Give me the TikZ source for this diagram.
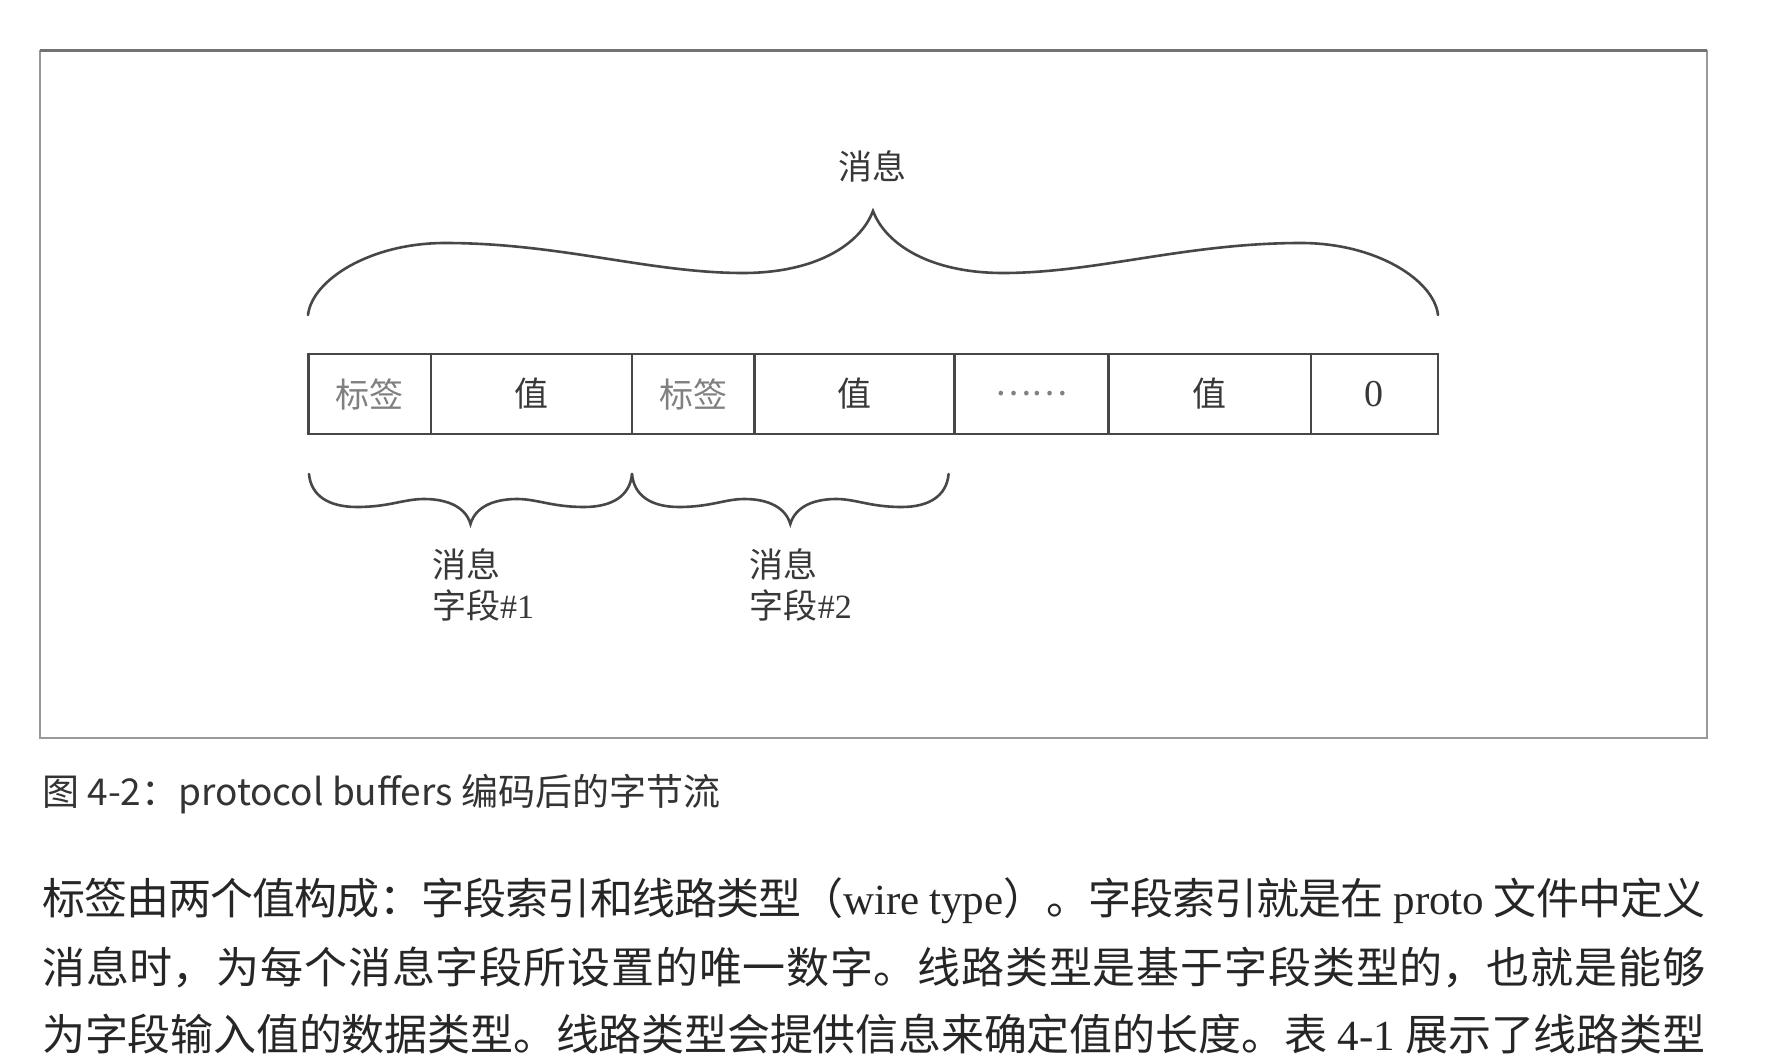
\documentclass[tikz,border=0pt]{standalone}
\usepackage{fontspec}
\setmainfont{Liberation Serif}
\newfontfamily\cjk{Noto Sans CJK SC}
\XeTeXlinebreaklocale "zh"
\XeTeXlinebreakskip=0pt plus 6pt minus 3pt
\newcommand{\fullline}[1]{\vbox{\hsize=1663pt\parindent=0pt\leftskip=0pt\rightskip=0pt
  \parfillskip=0pt\tolerance=9999\hbadness=10000\noindent #1\par}}
\tikzset{
  line/.style={line width=2.6pt, draw=black!72, line cap=round},
  cell/.style={draw=black!72, line width=2.4pt, minimum height=80pt, inner sep=0pt,
    text=black!78, font=\fontsize{34}{40}\selectfont\cjk},
  tagcell/.style={cell, text=black!50},
  lbl/.style={inner sep=0pt, text=black!78, font=\fontsize{34}{41}\selectfont},
  body/.style={anchor=west, inner sep=0pt, font=\fontsize{43}{50}\selectfont, text=black!85},
}
\begin{document}
\begin{tikzpicture}[x=1pt,y=-1pt]
\useasboundingbox[fill=white] (0,0) rectangle (1792,1062);
% frame
\draw[draw=black!40, line width=1.5pt] (40,51) rectangle (1707,738);
\draw[draw=black!55, line width=3pt] (40,51) -- (1707,51);
% top label and brace
\node[lbl, font=\fontsize{34}{41}\selectfont\cjk] (msg) at (872,166) {消息};
\draw[line] (308,315) .. controls (312,280) and (370,243) .. (445,243)
  .. controls (560,243) and (650,273) .. (743,273)
  .. controls (815,273) and (860,245) .. (873,211)
  .. controls (886,245) and (931,273) .. (1003,273)
  .. controls (1096,273) and (1186,243) .. (1301,243)
  .. controls (1376,243) and (1434,280) .. (1438,315);
% cells
\node[tagcell, minimum width=122.3pt] (c1) at (369.75,394) {标签};
\node[cell, minimum width=201.1pt] (c2) at (531.45,394) {值};
\node[tagcell, minimum width=122.3pt] (c3) at (693.15,394) {标签};
\node[cell, minimum width=200pt] (c4) at (854.3,394) {值};
\node[tagcell, minimum width=154.3pt] (c5) at (1031.45,394) {……};
\node[cell, minimum width=202.3pt] (c6) at (1209.75,394) {值};
\node[cell, minimum width=126.9pt, font=\fontsize{38}{40}\selectfont] (c7) at (1374.35,394) {0};
% lower braces
\draw[line] (309,474) .. controls (311,496) and (329,507) .. (357,507)
  .. controls (389,507) and (404,499) .. (424,499)
  .. controls (449,499) and (466,508) .. (470.5,524)
  .. controls (475,508) and (492,499) .. (517,499)
  .. controls (537,499) and (552,507) .. (584,507)
  .. controls (612,507) and (630,496) .. (632,474);
\draw[line] (632,474) .. controls (634,496) and (651.6,507) .. (679,507)
  .. controls (710.4,507) and (725,499) .. (744.4,499)
  .. controls (769,499) and (785.7,508) .. (790.3,524)
  .. controls (795,508) and (811.6,499) .. (836.2,499)
  .. controls (855.6,499) and (870.2,507) .. (901.6,507)
  .. controls (929,507) and (946.6,496) .. (948.6,474);
\node[lbl, anchor=north west, align=left] (f1) at (432,548) {{\cjk 消息}\\{\cjk 字段}\#1};
\node[lbl, anchor=north west, align=left] (f2) at (749.7,548) {{\cjk 消息}\\{\cjk 字段}\#2};
% caption
\node[anchor=west, inner sep=0pt, text=black!80, font=\fontsize{37}{42}\selectfont\cjk] (cap) at (42,794)
  {图 4-2：protocol buffers 编码后的字节流};
% body text
\node[body] (l1) at (42,900.6) {\fullline{{\cjk 标签由两个值构成：字段索引和线路类型（}wire type{\cjk ）。字段索引就是在} proto {\cjk 文件中定义}}};
\node[body] (l2) at (42,968) {\fullline{{\cjk 消息时，为每个消息字段所设置的唯一数字。线路类型是基于字段类型的，也就是能够}}};
\node[body] (l3) at (42,1034) {\fullline{{\cjk 为字段输入值的数据类型。线路类型会提供信息来确定值的长度。表} 4-1 {\cjk 展示了线路类型}}};
\end{tikzpicture}
\end{document}
